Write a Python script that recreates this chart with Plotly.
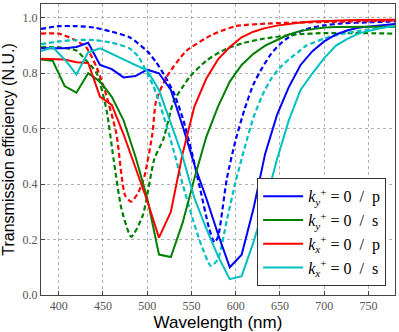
import plotly.graph_objects as go

# solid curves: sampled every 13.3 nm
wl_solid = [380, 393.3, 406.7, 420, 433.3, 446.7, 460, 473.3, 486.7, 500,
            513.3, 526.7, 540, 553.3, 566.7, 580, 593.3, 606.7, 620, 633.3,
            646.7, 660, 673.3, 686.7, 700, 713.3, 726.7, 740, 753.3, 766.7, 780]

ky_p = [0.89, 0.89, 0.89, 0.895, 0.91, 0.83, 0.815, 0.785, 0.79, 0.813,
        0.80, 0.74, 0.61, 0.47, 0.35, 0.22, 0.10, 0.145, 0.31, 0.51,
        0.65, 0.75, 0.83, 0.88, 0.915, 0.94, 0.955, 0.965, 0.97, 0.975, 0.978]
ky_s = [0.85, 0.845, 0.754, 0.73, 0.80, 0.77, 0.715, 0.63, 0.50, 0.35,
        0.146, 0.137, 0.26, 0.42, 0.57, 0.68, 0.77, 0.83, 0.87, 0.90,
        0.92, 0.94, 0.953, 0.96, 0.965, 0.967, 0.968, 0.968, 0.968, 0.968, 0.968]
kx_p = [0.852, 0.851, 0.85, 0.84, 0.837, 0.715, 0.686, 0.58, 0.46, 0.34,
        0.207, 0.30, 0.51, 0.68, 0.78, 0.85, 0.895, 0.93, 0.95, 0.963,
        0.972, 0.978, 0.983, 0.987, 0.989, 0.99, 0.991, 0.992, 0.992, 0.993, 0.993]
kx_s = [0.88, 0.894, 0.85, 0.796, 0.876, 0.89, 0.87, 0.85, 0.83, 0.81,
        0.74, 0.62, 0.50, 0.35, 0.24, 0.14, 0.057, 0.068, 0.19, 0.33,
        0.49, 0.63, 0.74, 0.80, 0.855, 0.90, 0.925, 0.945, 0.955, 0.965, 0.97]

# dashed curves: smooth reference
wl_ky_p_d = [380, 400, 420, 440, 460, 480, 500, 510, 520, 530, 540, 550, 560, 570,
             576, 580, 590, 600, 610, 620, 630, 640, 650, 660, 680, 700, 720, 750, 780]
ky_p_d = [0.96, 0.97, 0.97, 0.965, 0.95, 0.93, 0.88, 0.84, 0.79, 0.73, 0.64, 0.52, 0.38, 0.24,
          0.19, 0.21, 0.42, 0.56, 0.67, 0.76, 0.82, 0.87, 0.905, 0.93, 0.96, 0.973, 0.98, 0.984, 0.987]

wl_ky_s_d = [380, 400, 420, 431, 443, 454, 462, 471, 482, 495, 508, 518, 530, 540,
             548, 567, 589, 610, 630, 668, 700, 740, 780]
ky_s_d = [0.894, 0.894, 0.882, 0.846, 0.80, 0.668, 0.49, 0.31, 0.21, 0.287, 0.49, 0.56, 0.70, 0.75,
          0.787, 0.846, 0.888, 0.91, 0.924, 0.94, 0.945, 0.945, 0.943]

wl_kx_p_d = [380, 400, 416, 431, 443, 452, 465, 475, 482, 490, 497, 506, 510, 522,
             544, 574, 600, 640, 700, 780]
kx_p_d = [0.943, 0.943, 0.924, 0.894, 0.82, 0.74, 0.585, 0.36, 0.337, 0.37, 0.43, 0.585, 0.70, 0.787,
          0.88, 0.94, 0.97, 0.98, 0.985, 0.99]

wl_kx_s_d = [380, 400, 420, 440, 460, 480, 490, 500, 510, 520, 530, 540, 550, 560,
             572, 580, 590, 600, 610, 620, 630, 640, 650, 660, 670, 680, 700, 720, 740, 760, 780]
kx_s_d = [0.905, 0.915, 0.92, 0.92, 0.91, 0.89, 0.86, 0.80, 0.73, 0.63, 0.52, 0.40, 0.29, 0.19,
          0.105, 0.13, 0.27, 0.41, 0.53, 0.64, 0.72, 0.78, 0.82, 0.85, 0.875, 0.90, 0.925, 0.942, 0.953, 0.962, 0.97]

x_ticks = [400, 450, 500, 550, 600, 650, 700, 750]
y_ticks = [0.0, 0.2, 0.4, 0.6, 0.8, 1.0]

names = [
    "<i>k</i><sub><i>y</i></sub><sup>+</sup> = 0  /  p",
    "<i>k</i><sub><i>y</i></sub><sup>+</sup> = 0  /  s",
    "<i>k</i><sub><i>x</i></sub><sup>+</sup> = 0  /  p",
    "<i>k</i><sub><i>x</i></sub><sup>+</sup> = 0  /  s",
]
colors = ["#0000ff", "#008000", "#ff0000", "#00bfbf"]

fig = go.Figure()

dashed = [(wl_ky_p_d, ky_p_d), (wl_ky_s_d, ky_s_d), (wl_kx_p_d, kx_p_d), (wl_kx_s_d, kx_s_d)]
for (xs, ys), c in zip(dashed, colors):
    fig.add_trace(go.Scatter(
        x=xs, y=ys, mode="lines", showlegend=False,
        line=dict(color=c, width=2.2, dash="5px,3px", shape="spline", smoothing=0.6),
    ))

for ys, c, n in zip([ky_p, ky_s, kx_p, kx_s], colors, names):
    fig.add_trace(go.Scatter(
        x=wl_solid, y=ys, mode="lines", name=n,
        line=dict(color=c, width=2),
    ))

fig.update_layout(
    width=399,
    height=332,
    margin=dict(l=41, r=3, t=3, b=35),
    paper_bgcolor="white",
    plot_bgcolor="white",
    font=dict(family="Liberation Sans", color="black"),
    legend=dict(
        x=0.975, y=0.03, xanchor="right", yanchor="bottom",
        bgcolor="white", bordercolor="#333", borderwidth=1,
        font=dict(family="Liberation Serif", size=16),
        itemwidth=40, tracegroupgap=0,
    ),
)
fig.update_xaxes(
    range=[380, 780], tickvals=x_ticks,
    showgrid=True, gridcolor="#b0b0b0", griddash="dot", gridwidth=1,
    zeroline=False, showline=True, mirror=True, linecolor="#444", linewidth=1,
    ticks="inside", ticklen=4, tickcolor="#444",
    tickfont=dict(family="Liberation Serif", size=12, color="#555"),
    title=dict(text="Wavelength (nm)", font=dict(size=17), standoff=4),
)
fig.update_yaxes(
    range=[0, 1.05], tickvals=y_ticks, tickformat=".1f",
    showgrid=True, gridcolor="#b0b0b0", griddash="dot", gridwidth=1,
    zeroline=False, showline=True, mirror=True, linecolor="#444", linewidth=1,
    ticks="inside", ticklen=4, tickcolor="#444",
    tickfont=dict(family="Liberation Serif", size=12, color="#555"),
    title=dict(text="Transmission efficiency (N.U.)", font=dict(size=16), standoff=6),
)

fig.write_html("out.html", config={"displayModeBar": False},
               post_script="document.body.style.margin='0';")
